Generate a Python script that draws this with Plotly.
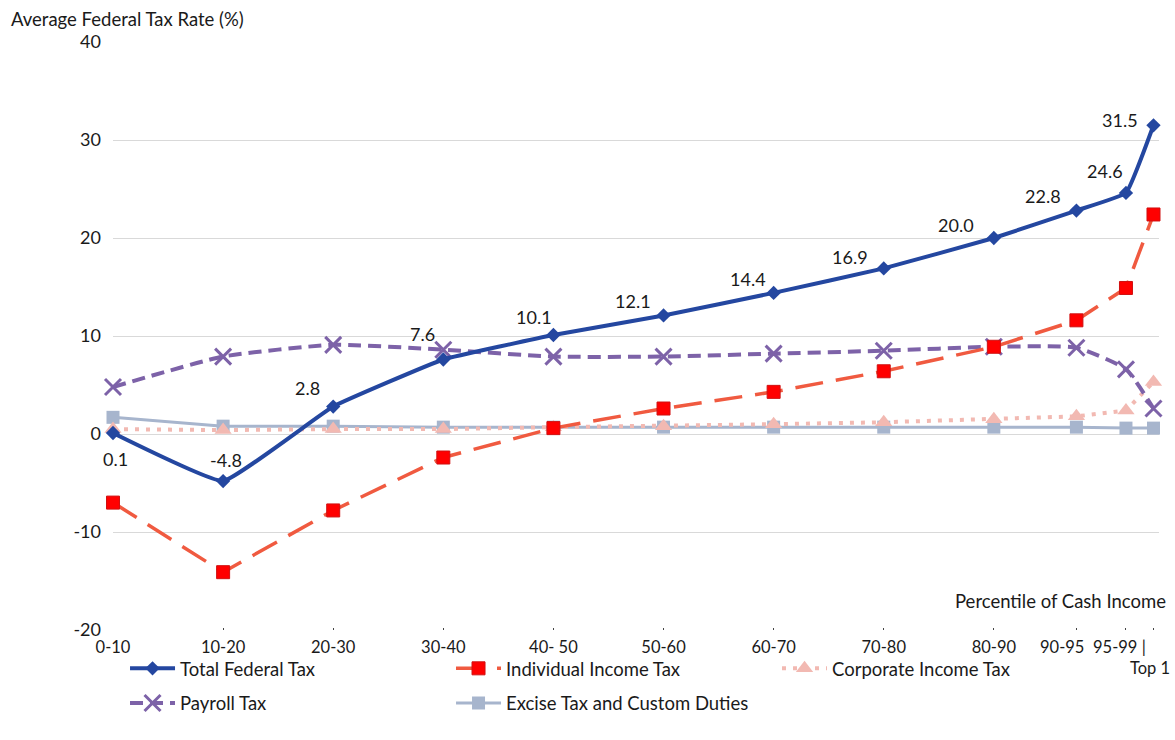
import plotly.graph_objects as go

# ---- data ----
categories = ["0-10", "10-20", "20-30", "30-40", "40- 50", "50-60", "60-70",
              "70-80", "80-90", "90-95", "95-99 |", "Top 1"]
x_mid = [5, 15, 25, 35, 45, 55, 65, 75, 85, 92.5, 97, 99.5]

total_federal = [0.1, -4.8, 2.8, 7.6, 10.1, 12.1, 14.4, 16.9, 20.0, 22.8, 24.6, 31.5]
individual_income = [-7.0, -14.1, -7.8, -2.4, 0.6, 2.6, 4.3, 6.4, 8.9, 11.6, 14.9, 22.4]
corporate_income = [0.5, 0.4, 0.5, 0.5, 0.7, 0.8, 1.0, 1.2, 1.5, 1.8, 2.4, 5.3]
payroll = [4.8, 7.9, 9.1, 8.6, 7.9, 7.9, 8.2, 8.5, 8.9, 8.8, 6.6, 2.6]
excise = [1.7, 0.8, 0.8, 0.7, 0.7, 0.7, 0.7, 0.7, 0.7, 0.7, 0.6, 0.6]

y_ticks = [-20, -10, 0, 10, 20, 30, 40]
y_tick_text = ["-20", "-10", "0", "10", "20", "30", "40"]

# label offsets (px) for total federal data labels
label_dx = [2, 3, -26, -21, -19, -31, -26, -34, -38, -33, -21, -33]
label_dy = [-26, 21, 19, 26, 18, 14, 14, 11, 13, 15, 22, 5]

FONT = "Lato"
TXT = "#1a1a1a"
C_TOTAL = "#2447A0"
C_IND = "#F05A40"
C_CORP = "#F2B9B2"
C_PAY = "#7D62A8"
C_EXC = "#A7B5CD"

fig = go.Figure()

fig.add_trace(go.Scatter(
    x=x_mid, y=excise, name="Excise Tax and Custom Duties", mode="lines+markers",
    line=dict(color=C_EXC, width=3),
    marker=dict(symbol="square", size=13, color=C_EXC),
    cliponaxis=False, legend="legend2", legendrank=2))

fig.add_trace(go.Scatter(
    x=x_mid, y=corporate_income, name="Corporate Income Tax", mode="lines+markers",
    line=dict(color=C_CORP, width=4, dash="4px,7px"),
    marker=dict(symbol="triangle-up", size=15, color=C_CORP),
    cliponaxis=False, legend="legend", legendrank=3))

fig.add_trace(go.Scatter(
    x=x_mid, y=payroll, name="Payroll Tax", mode="lines+markers",
    line=dict(color=C_PAY, width=4, dash="13px,7px", shape="spline", smoothing=0.5),
    marker=dict(symbol="x-thin", size=16, line=dict(color=C_PAY, width=3)),
    cliponaxis=False, legend="legend2", legendrank=1))

fig.add_trace(go.Scatter(
    x=x_mid, y=individual_income, name="Individual Income Tax", mode="lines+markers",
    line=dict(color=C_IND, width=3.5, dash="28px,13px"),
    marker=dict(symbol="square", size=13, color="#FF0000",
                line=dict(color="#D01010", width=1)),
    cliponaxis=False, legend="legend", legendrank=2))

fig.add_trace(go.Scatter(
    x=x_mid, y=total_federal, name="Total Federal Tax", mode="lines+markers",
    line=dict(color=C_TOTAL, width=4, shape="spline", smoothing=0.3),
    marker=dict(symbol="diamond", size=11, color=C_TOTAL),
    cliponaxis=False, legend="legend", legendrank=1))

for xv, yv, dx, dy in zip(x_mid, total_federal, label_dx, label_dy):
    fig.add_annotation(x=xv, y=yv, text=f"{yv:.1f}", showarrow=False,
                       xshift=dx, yshift=dy, font=dict(family=FONT, size=18, color=TXT))

# axis tick labels: the last three (crowded) are drawn as annotations at their ticks
tick_text = categories[:9] + ["", "", ""]
crowded = [(9, "center", -14, -0.0289), (10, "center", -6, -0.0289), (11, "right", 19, -0.0646)]
for idx, anchor, shift, ypos in crowded:
    fig.add_annotation(x=x_mid[idx], xref="x", yref="paper", y=ypos, text=categories[idx],
                       xanchor=anchor, yanchor="middle", xshift=shift, showarrow=False,
                       font=dict(family=FONT, size=16.5, color=TXT))

legend_common = dict(orientation="h", xanchor="left", yanchor="middle",
                     entrywidth=266, entrywidthmode="pixels", itemwidth=45,
                     font=dict(family=FONT, size=18.5, color=TXT), bgcolor="rgba(0,0,0,0)")

fig.update_layout(
    width=1175, height=740,
    margin=dict(l=113, r=16, t=42, b=110, autoexpand=False),
    paper_bgcolor="white", plot_bgcolor="white",
    font=dict(family=FONT, size=17, color=TXT),
    showlegend=True,
    legend=dict(x=0.0115, y=-0.066, **legend_common),
    legend2=dict(x=0.0115, y=-0.125, **legend_common),
    xaxis=dict(range=[5, 100], tickmode="array", tickvals=x_mid, ticktext=tick_text,
               tickangle=0, showgrid=False, zeroline=False, showline=False,
               automargin=False,
               ticks="inside", ticklen=2, tickcolor="#444", tickwidth=1,
               ticklabeloverflow="allow", ticklabelstandoff=5,
               tickfont=dict(family=FONT, size=16.5, color=TXT)),
    yaxis=dict(range=[-20, 40], tickmode="array", tickvals=y_ticks, ticktext=y_tick_text,
               showgrid=True, gridcolor="#D9D9D9", gridwidth=1,
               zeroline=True, zerolinecolor="#D9D9D9", zerolinewidth=1, showline=False,
               automargin=False, ticklabelstandoff=11,
               tickfont=dict(family=FONT, size=18, color=TXT)),
)

fig.add_annotation(xref="paper", yref="paper", x=-0.0994, y=1.039, xanchor="left",
                   yanchor="middle", text="Average Federal Tax Rate (%)", showarrow=False,
                   font=dict(family=FONT, size=18.5, color=TXT))
fig.add_annotation(xref="paper", yref="paper", x=1.0086, y=0.0493, xanchor="right",
                   yanchor="middle", text="Percentile of Cash Income", showarrow=False,
                   font=dict(family=FONT, size=18.5, color=TXT))

fig.write_html("out.html", config={"displayModeBar": False},
               post_script="document.body.style.margin='0px';")
